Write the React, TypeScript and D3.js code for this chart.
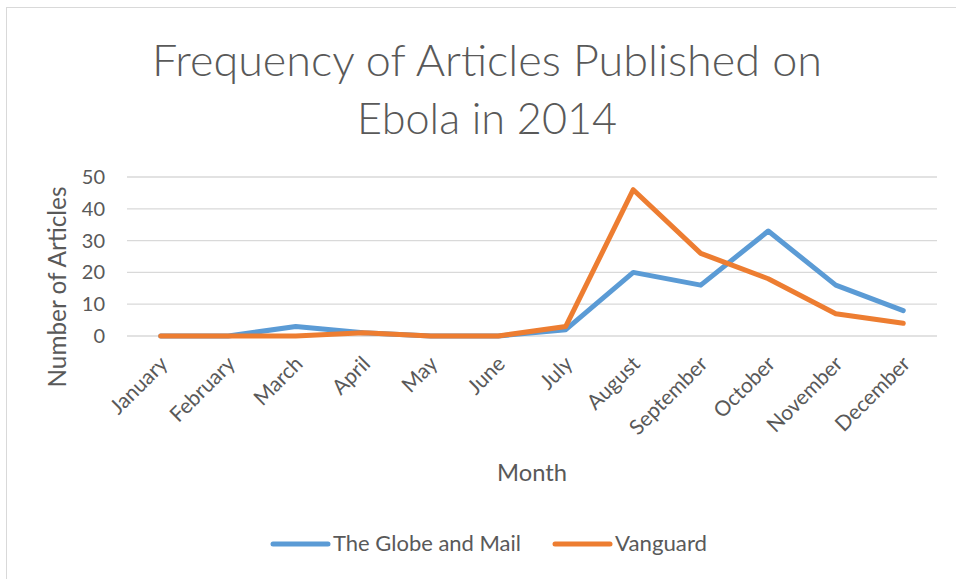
import React, { useEffect, useRef } from "react";
import * as d3 from "d3";

const months = [
  "January",
  "February",
  "March",
  "April",
  "May",
  "June",
  "July",
  "August",
  "September",
  "October",
  "November",
  "December",
];
const globeAndMail = [0, 0, 3, 1, 0, 0, 2, 20, 16, 33, 16, 8];
const vanguard = [0, 0, 0, 1, 0, 0, 3, 46, 26, 18, 7, 4];
const yTicks = [0, 10, 20, 30, 40, 50];

const seriesList = [
  { name: "The Globe and Mail", values: globeAndMail, color: "#5B9BD5" },
  { name: "Vanguard", values: vanguard, color: "#ED7D31" },
];

const FONT = "Lato, 'Open Sans', sans-serif";
const TEXT = "#595959";

const App = () => {
  const ref = useRef<SVGSVGElement>(null);

  useEffect(() => {
    draw();
  }, []);

  const draw = () => {
    const svg = d3.select(ref.current);
    svg.selectAll("*").remove();

    // chart frame
    svg
      .append("rect")
      .attr("x", 6.5)
      .attr("y", 7.5)
      .attr("width", 1000)
      .attr("height", 1000)
      .attr("fill", "white")
      .attr("stroke", "#D9D9D9");

    const x = d3.scalePoint().domain(months).range([127, 937]).padding(0.5);
    const y = d3.scaleLinear().domain([0, 50]).range([336, 177]);

    // title
    const title = svg
      .append("text")
      .attr("font-family", FONT)
      .attr("font-size", 44)
      .attr("font-weight", 300)
      .attr("fill", TEXT)
      .attr("text-anchor", "middle");
    title
      .append("tspan")
      .attr("x", 487)
      .attr("y", 76)
      .attr("textLength", 670)
      .attr("lengthAdjust", "spacingAndGlyphs")
      .text("Frequency of Articles Published on");
    title
      .append("tspan")
      .attr("x", 487)
      .attr("y", 134)
      .attr("textLength", 260)
      .attr("lengthAdjust", "spacingAndGlyphs")
      .text("Ebola in 2014");

    // gridlines
    svg
      .append("g")
      .selectAll("line")
      .data(yTicks)
      .join("line")
      .attr("x1", 127)
      .attr("x2", 937)
      .attr("y1", (d) => y(d))
      .attr("y2", (d) => y(d))
      .attr("stroke", "#D9D9D9")
      .attr("stroke-width", 1.3);

    // y tick labels
    svg
      .append("g")
      .selectAll("text")
      .data(yTicks)
      .join("text")
      .attr("x", 105)
      .attr("y", (d) => y(d))
      .attr("dy", "0.35em")
      .attr("text-anchor", "end")
      .attr("font-family", FONT)
      .attr("font-size", 20)
      .attr("fill", TEXT)
      .text((d) => d);

    // x tick labels, rotated
    svg
      .append("g")
      .selectAll("text")
      .data(months)
      .join("text")
      .attr("transform", (d) => `translate(${(x(d) as number) + 3},${360}) rotate(-45)`)
      .attr("dy", "0.35em")
      .attr("text-anchor", "end")
      .attr("font-family", FONT)
      .attr("font-size", 21)
      .attr("fill", TEXT)
      .text((d) => d);

    // axis titles
    svg
      .append("text")
      .attr("transform", "translate(66,287) rotate(-90)")
      .attr("text-anchor", "middle")
      .attr("font-family", FONT)
      .attr("font-size", 25)
      .attr("fill", TEXT)
      .attr("textLength", 201)
      .attr("lengthAdjust", "spacingAndGlyphs")
      .text("Number of Articles");

    svg
      .append("text")
      .attr("x", 532)
      .attr("y", 481)
      .attr("text-anchor", "middle")
      .attr("font-family", FONT)
      .attr("font-size", 24)
      .attr("fill", TEXT)
      .attr("textLength", 70)
      .attr("lengthAdjust", "spacingAndGlyphs")
      .text("Month");

    // series lines
    const line = d3
      .line<number>()
      .x((_, i) => x(months[i]) as number)
      .y((d) => y(d));

    seriesList.forEach((s) => {
      svg
        .append("path")
        .datum(s.values)
        .attr("fill", "none")
        .attr("stroke", s.color)
        .attr("stroke-width", 5)
        .attr("stroke-linejoin", "round")
        .attr("stroke-linecap", "round")
        .attr("d", line);
    });

    // legend
    const legendItems = [
      { x: 273, textLen: 188 },
      { x: 555, textLen: 92 },
    ];
    seriesList.forEach((s, i) => {
      const lx = legendItems[i].x;
      svg
        .append("line")
        .attr("x1", lx)
        .attr("x2", lx + 55)
        .attr("y1", 544)
        .attr("y2", 544)
        .attr("stroke", s.color)
        .attr("stroke-width", 5)
        .attr("stroke-linecap", "round");
      svg
        .append("text")
        .attr("x", lx + 60)
        .attr("y", 544)
        .attr("dy", "0.35em")
        .attr("font-family", FONT)
        .attr("font-size", 21)
        .attr("fill", TEXT)
        .attr("textLength", legendItems[i].textLen)
        .attr("lengthAdjust", "spacingAndGlyphs")
        .text(s.name);
    });
  };

  return (
    <svg
      ref={ref}
      width={956}
      height={579}
      style={{ position: "absolute", left: 0, top: 0, background: "white" }}
    />
  );
};

export default App;
